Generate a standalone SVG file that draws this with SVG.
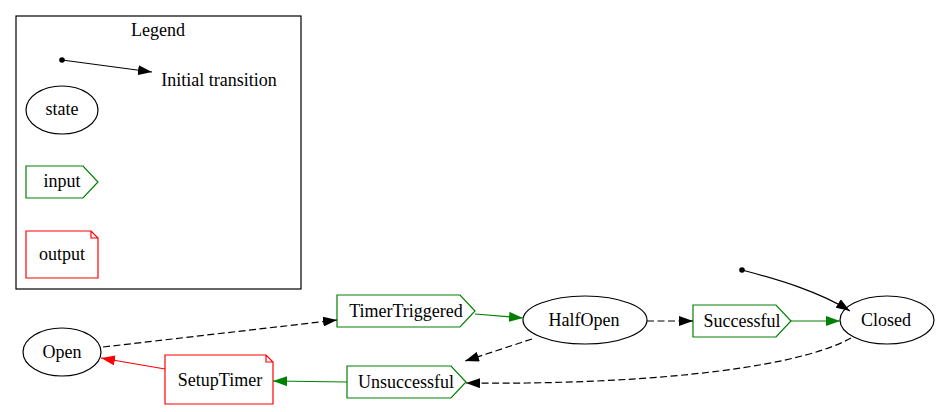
<svg xmlns="http://www.w3.org/2000/svg" width="939" height="412" viewBox="0 0 939 412">
<style>
text{font-family:"Liberation Serif","Times New Roman",serif;font-size:18px}
.st{fill:none;stroke:#000;stroke-width:1.2}
.in{fill:none;stroke:#008000;stroke-width:1.2}
.out{fill:none;stroke:#ff0000;stroke-width:1.2}
.e{fill:none;stroke:#000;stroke-width:1.2}
.d{stroke-dasharray:7,3.5}
.g{fill:none;stroke:#008000;stroke-width:1.2}
.r{fill:none;stroke:#ff0000;stroke-width:1.2}
</style>
<defs>
<marker id="ab" viewBox="0 0 14 10" refX="14" refY="5" markerWidth="14" markerHeight="10" markerUnits="userSpaceOnUse" orient="auto"><path d="M0,0L14,5L0,10z" fill="#000"/></marker>
<marker id="ag" viewBox="0 0 14 10" refX="14" refY="5" markerWidth="14" markerHeight="10" markerUnits="userSpaceOnUse" orient="auto"><path d="M0,0L14,5L0,10z" fill="#008000"/></marker>
<marker id="ar" viewBox="0 0 14 10" refX="14" refY="5" markerWidth="14" markerHeight="10" markerUnits="userSpaceOnUse" orient="auto"><path d="M0,0L14,5L0,10z" fill="#ff0000"/></marker>
</defs>
<rect width="939" height="412" fill="#fff"/>
<g font-family="Liberation Serif, Times New Roman, serif" font-size="18" text-anchor="middle" fill="#000">
<g id="legend">
<rect x="16" y="16" width="285" height="273" fill="none" stroke="#000" stroke-width="1.2"/>
<text x="158" y="36">Legend</text>
<circle cx="62" cy="60" r="2.8" fill="#000"/>
<line x1="62" y1="60" x2="152" y2="72" class="e" marker-end="url(#ab)"/>
<text x="219" y="86">Initial transition</text>
<ellipse cx="62" cy="110" rx="36" ry="24" class="st"/>
<text x="62" y="115">state</text>
<polygon points="26,166 83,166 98,182 83,198 26,198" class="in"/>
<text x="62" y="187">input</text>
<path d="M26,231H91L98,238V278H26Z M91,231V238H98" class="out"/>
<text x="62" y="260">output</text>
</g>
<g id="Open"><ellipse cx="62" cy="352" rx="39" ry="24" class="st"/><text x="62" y="358">Open</text></g>
<g id="TimerTriggered"><polygon points="337,295 460,295 475,311 460,327 337,327" class="in"/><text x="406" y="317">TimerTriggered</text></g>
<g id="HalfOpen"><ellipse cx="585" cy="320" rx="62" ry="24" class="st"/><text x="584" y="326">HalfOpen</text></g>
<g id="Successful"><polygon points="693,305 776,305 791,321 776,337 693,337" class="in"/><text x="742" y="327">Successful</text></g>
<g id="Closed"><ellipse cx="887" cy="320" rx="47" ry="24" class="st"/><text x="886" y="326">Closed</text></g>
<g id="init"><circle cx="742" cy="270" r="2.8" fill="#000"/></g>
<g id="Unsuccessful"><polygon points="347,366 451,366 466,382 451,398 347,398" class="in"/><text x="406" y="388">Unsuccessful</text></g>
<g id="SetupTimer"><path d="M165,355H266L273,362V404H165Z M266,355V362H273" class="out"/><text x="220" y="386">SetupTimer</text></g>
</g>
<g id="connectors">
<line x1="103" y1="347" x2="337" y2="320" class="e d" marker-end="url(#ab)"/>
<line x1="475" y1="314" x2="523" y2="318" class="g" marker-end="url(#ag)"/>
<line x1="647" y1="321" x2="693" y2="321" class="e d" marker-end="url(#ab)"/>
<line x1="791" y1="321" x2="840" y2="321" class="g" marker-end="url(#ag)"/>
<path d="M742,270 C780,280 820,292 850,311" class="e" marker-end="url(#ab)"/>
<line x1="532" y1="339" x2="465" y2="361" class="e d" marker-end="url(#ab)"/>
<path d="M851,338 C790,372 620,385 466,383" class="e d" marker-end="url(#ab)"/>
<line x1="347" y1="382" x2="273" y2="381" class="g" marker-end="url(#ag)"/>
<line x1="165" y1="369" x2="101" y2="358" class="r" marker-end="url(#ar)"/>
</g>
</svg>
